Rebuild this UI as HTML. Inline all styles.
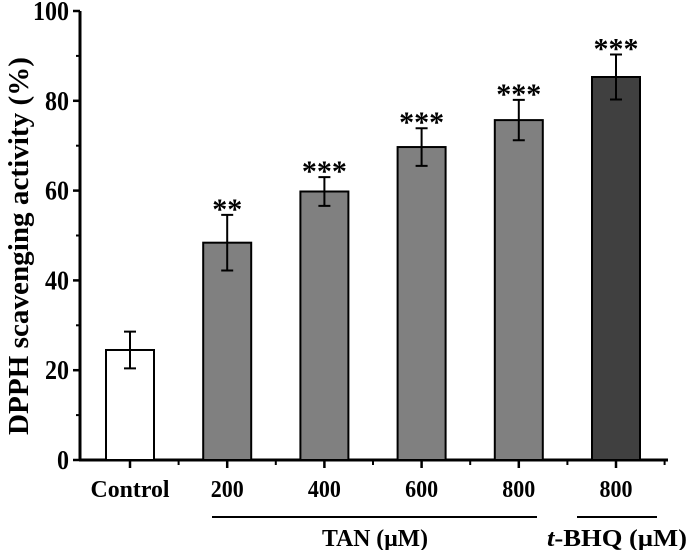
<!DOCTYPE html>
<html><head><meta charset="utf-8"><style>
html,body{margin:0;padding:0;background:#fff;width:689px;height:550px;overflow:hidden}
svg text{font-family:"Liberation Serif",serif;font-weight:bold;fill:#000}
</style></head><body>
<svg id="chart" width="689" height="550" viewBox="0 0 689 550" xmlns="http://www.w3.org/2000/svg">
<g id="axes"></g>
<g id="bars"></g>
<text transform="translate(28,246) rotate(-90)" text-anchor="middle" font-size="28" textLength="378" lengthAdjust="spacingAndGlyphs">DPPH scavenging activity (%)</text>
<line x1="212" y1="517" x2="537" y2="517" stroke="#000" stroke-width="2"/>
<line x1="577" y1="517" x2="657" y2="517" stroke="#000" stroke-width="2"/>
<text x="375" y="546" text-anchor="middle" font-size="24" textLength="106" lengthAdjust="spacingAndGlyphs">TAN (μM)</text>
<text x="687" y="546" text-anchor="end" font-size="24" textLength="140" lengthAdjust="spacingAndGlyphs"><tspan font-style="italic">t</tspan>-BHQ  (μM)</text>
</svg>
<script>
const categories = ["Control","200","400","600","800","800"];
const values = [24.5, 48.4, 59.8, 69.7, 75.7, 85.3];
const errors = [4.1, 6.2, 3.2, 4.2, 4.5, 5.0];
const stars = ["", "**", "***", "***", "***", "***"];
const fills = ["#ffffff","#808080","#808080","#808080","#808080","#404040"];
const yTicks = [0,20,40,60,80,100];

const NS="http://www.w3.org/2000/svg";
const x0=80, x1=668, yBase=460, yTop=11;
const yS = v => yBase - (yBase-yTop)*v/100;
const xS = i => 130 + i*97.2;
const bw = 48;
function mk(tag, attrs, parent){const e=document.createElementNS(NS,tag);for(const k in attrs)e.setAttribute(k,attrs[k]);parent.appendChild(e);return e;}
const axes=document.getElementById('axes'), bars=document.getElementById('bars');

let l=mk('line',{x1:x0,y1:yBase,x2:x0,y2:yTop,stroke:'#000','stroke-width':3},axes);


l=mk('line',{x1:x0-1,y1:yBase,x2:x1,y2:yBase,stroke:'#000','stroke-width':3},axes);


yTicks.forEach((t,i)=>{
  const y=yS(t);
  const tk=mk('line',{x1:x0-7,y1:y,x2:x0,y2:y,stroke:'#000','stroke-width':2.5},axes);
  
  
  if(i<yTicks.length-1){
    const m=mk('line',{x1:x0-4,y1:yS(t+10),x2:x0,y2:yS(t+10),stroke:'#000','stroke-width':2},axes);
    
    
  }
  const s=String(t);
  const tx=mk('text',{x:x0-11,y:y+9,'text-anchor':'end','font-size':27,textLength:s.length*12,lengthAdjust:'spacingAndGlyphs'},axes);
  tx.textContent=t;
  
  
});
categories.forEach((c,i)=>{
  const cx=xS(i);
  const tk=mk('line',{x1:cx,y1:yBase,x2:cx,y2:yBase+8,stroke:'#000','stroke-width':2.5},axes);
  
  
  const m=mk('line',{x1:cx+48.6,y1:yBase,x2:cx+48.6,y2:yBase+5,stroke:'#000','stroke-width':2},axes);
  
  
  const tx=mk('text',{x:cx,y:497,'text-anchor':'middle','font-size':24,textLength:(c.length>3?79:33),lengthAdjust:'spacingAndGlyphs'},axes);
  tx.textContent=c;
  
  

  const v=values[i], top=yS(v);
  const r=mk('rect',{x:cx-bw/2,y:top,width:bw,height:yBase-top,fill:fills[i],stroke:'#000','stroke-width':2},bars);
  
  
  const eh=yS(v+errors[i]), el=yS(v-errors[i]);
  const e=mk('path',{d:`M${cx},${eh}V${el}M${cx-6},${eh}H${cx+6}M${cx-6},${el}H${cx+6}`,stroke:'#000','stroke-width':2,fill:'none'},bars);
  
  
  if(stars[i]){
    const s=mk('text',{x:cx,y:eh+4,'text-anchor':'middle','font-size':30},bars);
    s.textContent=stars[i];
    
    
  }
});
</script>
</body></html>
